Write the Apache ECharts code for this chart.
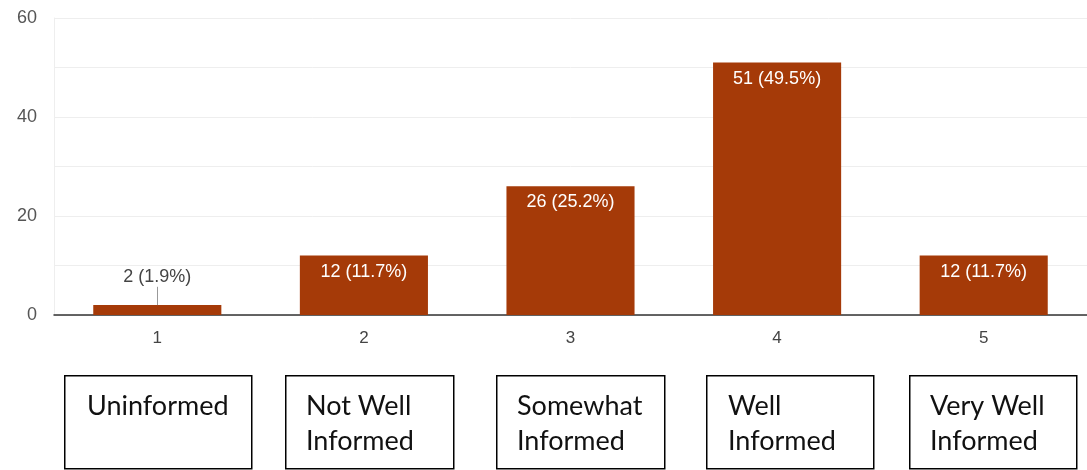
<!DOCTYPE html>
<html>
<head>
<meta charset="utf-8">
<script src="https://cdn.jsdelivr.net/npm/echarts@6/dist/echarts.min.js"></script>
<style>
  html, body { margin: 0; padding: 0; background: #ffffff; }
  #chart { width: 1087px; height: 470px; }
</style>
</head>
<body>
<div id="chart"></div>
<script>
// Rating scale 1–5 with number of responses per rating
const ratings = ['1', '2', '3', '4', '5'];
const responses = [2, 12, 26, 51, 12];
const yTicks = [0, 20, 40, 60];
// Descriptions printed under each rating
const ratingNames = [
  ['Uninformed'],
  ['Not Well', 'Informed'],
  ['Somewhat', 'Informed'],
  ['Well', 'Informed'],
  ['Very Well', 'Informed']
];

const total = responses.reduce((a, b) => a + b, 0);
const pct = v => (v / total * 100).toFixed(1);
const barColor = '#a53a08';
const chartFont = '"Liberation Sans", Arial, sans-serif';
const boxFont = 'Lato, "Open Sans", sans-serif';

const chart = echarts.init(document.getElementById('chart'), null, { renderer: 'canvas' });

// Description boxes under the axis
const boxes = [
  { x: 64, w: 187, tx: 87 },
  { x: 285, w: 168, tx: 306 },
  { x: 496, w: 168, tx: 517 },
  { x: 706, w: 167, tx: 728 },
  { x: 909, w: 167, tx: 930 }
];
const graphic = [];
boxes.forEach((b, i) => {
  graphic.push({
    type: 'rect', left: b.x, top: 375,
    shape: { width: b.w, height: 93 },
    style: { fill: '#ffffff', stroke: '#000000', lineWidth: 1.5 }
  });
  graphic.push({
    type: 'text', left: b.tx, top: 389,
    style: {
      text: ratingNames[i].join('\n'),
      font: '27px ' + boxFont, fill: '#111111', lineHeight: 35
    }
  });
});

chart.setOption({
  animation: false,
  grid: { left: 54, top: 18, width: 1035, height: 297, containLabel: false },
  xAxis: {
    type: 'category',
    data: ratings,
    axisLine: { lineStyle: { color: '#333333', width: 1.5 } },
    axisTick: { show: false },
    axisLabel: { color: '#444444', fontSize: 17, fontFamily: chartFont, margin: 15 },
    splitLine: { show: false }
  },
  yAxis: {
    type: 'value',
    min: 0, max: 60, interval: 10,
    axisLine: { show: true, lineStyle: { color: '#eeeeee' } },
    axisTick: { show: false },
    axisLabel: {
      color: '#555555', fontSize: 18, fontFamily: chartFont, margin: 17,
      formatter: v => (yTicks.indexOf(v) >= 0 ? String(v) : '')
    },
    splitLine: { lineStyle: { color: '#eeeeee', width: 1 } }
  },
  series: [{
    type: 'bar',
    data: responses.map((v, i) => {
      const item = { value: v };
      if (v < 5) {
        item.label = {
          position: 'top', distance: 19, color: '#444444'
        };
      }
      return item;
    }),
    barWidth: '62%',
    itemStyle: { color: barColor },
    label: {
      show: true,
      position: 'insideTop',
      distance: 7,
      color: '#ffffff',
      fontSize: 18,
      fontFamily: chartFont,
      formatter: p => p.value + ' (' + pct(p.value) + '%)'
    },
    markLine: {
      silent: true,
      symbol: 'none',
      label: { show: false },
      lineStyle: { color: '#999999', type: 'solid', width: 1 },
      data: [[{ coord: ['1', 2] }, { coord: ['1', 5.7] }]]
    }
  }],
  graphic: graphic
});
</script>
</body>
</html>
